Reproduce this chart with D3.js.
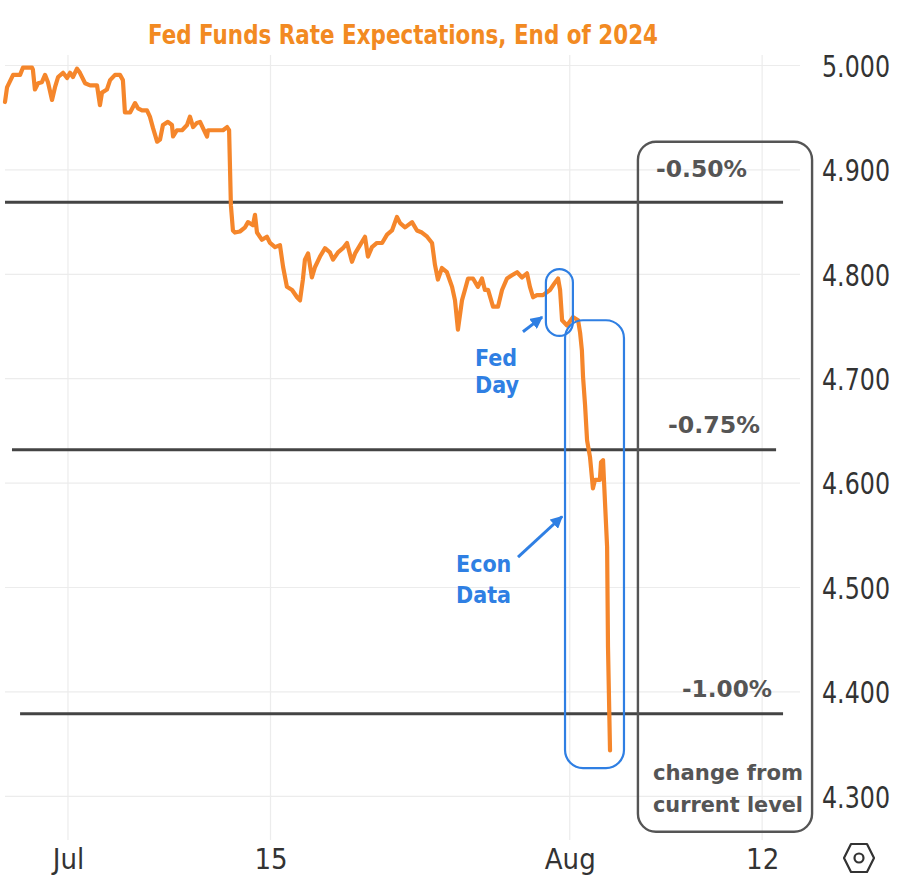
<!DOCTYPE html>
<html><head><meta charset="utf-8">
<script src="https://cdn.jsdelivr.net/npm/d3@7"></script>
<style>body{margin:0;background:#fff}</style>
</head><body><svg id="c" width="898" height="888"></svg>
<script>
// ---- data (x in trading days since Jul 1) ----
const times = [-2.80,-2.71,-2.44,-2.13,-2.00,-1.60,-1.56,-1.47,-1.33,-1.16,-1.02,-0.89,-0.71,-0.58,-0.44,-0.22,-0.04,0.09,0.22,0.40,0.53,0.76,0.98,1.29,1.42,1.51,1.73,1.87,2.09,2.31,2.44,2.53,2.76,2.98,3.11,3.29,3.51,3.64,3.78,3.96,4.09,4.22,4.44,4.62,4.67,4.84,5.07,5.29,5.42,5.56,5.73,5.87,6.00,6.18,6.22,6.44,6.89,7.07,7.16,7.24,7.33,7.42,7.64,7.87,8.00,8.22,8.31,8.40,8.62,8.84,8.98,9.20,9.42,9.56,9.73,9.96,10.18,10.31,10.44,10.53,10.67,10.84,10.98,11.20,11.42,11.64,11.78,12.00,12.22,12.40,12.62,12.76,12.98,13.20,13.33,13.51,13.73,13.96,14.18,14.40,14.62,14.76,14.98,15.29,15.51,15.73,15.96,16.18,16.31,16.44,16.62,16.84,17.07,17.20,17.33,17.51,17.64,17.78,18.00,18.22,18.40,18.53,18.67,18.89,19.11,19.29,19.51,19.73,19.96,20.18,20.40,20.53,20.67,20.84,21.11,21.42,21.64,21.78,21.87,21.96,22.18,22.44,22.67,22.76,22.84,22.89,22.98,23.07,23.20,23.33,23.42,23.64,23.69,23.78,23.82,23.96,24.00,24.09];
const rates = [4.965,4.979,4.991,4.991,4.998,4.998,4.996,4.977,4.983,4.984,4.991,4.984,4.967,4.979,4.989,4.993,4.988,4.993,4.989,4.997,4.993,4.983,4.981,4.981,4.962,4.974,4.977,4.986,4.991,4.991,4.986,4.955,4.955,4.964,4.959,4.957,4.957,4.951,4.940,4.927,4.929,4.943,4.946,4.943,4.932,4.938,4.938,4.943,4.951,4.941,4.945,4.946,4.940,4.932,4.938,4.938,4.938,4.941,4.938,4.866,4.842,4.840,4.841,4.845,4.850,4.847,4.857,4.840,4.833,4.836,4.830,4.826,4.828,4.807,4.788,4.785,4.778,4.775,4.795,4.814,4.820,4.797,4.807,4.817,4.825,4.821,4.814,4.821,4.825,4.830,4.812,4.820,4.828,4.836,4.817,4.826,4.830,4.830,4.838,4.842,4.855,4.849,4.845,4.850,4.842,4.840,4.836,4.830,4.809,4.795,4.806,4.802,4.788,4.775,4.747,4.775,4.785,4.796,4.796,4.788,4.796,4.785,4.785,4.769,4.769,4.785,4.796,4.799,4.802,4.797,4.801,4.788,4.778,4.780,4.780,4.785,4.792,4.796,4.785,4.756,4.751,4.759,4.756,4.744,4.727,4.702,4.675,4.641,4.625,4.595,4.603,4.603,4.620,4.622,4.603,4.539,4.443,4.344];
const yTicks = [5.0,4.9,4.8,4.7,4.6,4.5,4.4,4.3];
const xTickDays = [0, 9, 22.3, 30.85];
const xTickLabels = ["Jul","15","Aug","12"];
const cutLevels = [4.869, 4.632, 4.379];
const cutLabels = ["-0.50%","-0.75%","-1.00%"];
const cutStarts = [-2.8, -2.49, -2.13];
const cutEnds = [31.78, 31.47, 31.78];
const titleText = "Fed Funds Rate Expectations, End of 2024";

// ---- scales ----
const svg = d3.select("#c");
const x = d3.scaleLinear().domain([-2.8, 31.5]).range([5, 776.75]);
const y = d3.scaleLinear().domain([4.3, 5.0]).range([796.3, 65.5]);
const FONT = "'DejaVu Sans Condensed','DejaVu Sans',sans-serif";
const ORANGE = "#f5862b", BLUE = "#2f7fe3", GRAY = "#555";

// gridlines
svg.append("g").selectAll("line").data(yTicks).join("line")
  .attr("x1", 5).attr("x2", 800).attr("y1", d => y(d)).attr("y2", d => y(d))
  .attr("stroke", "#ececec").attr("stroke-width", 1.2);
svg.append("g").selectAll("line").data(xTickDays).join("line")
  .attr("x1", d => x(d)).attr("x2", d => x(d)).attr("y1", 55).attr("y2", 840)
  .attr("stroke", "#ececec").attr("stroke-width", 1.2);

// y axis (right)
const yAxis = svg.append("g").attr("transform", "translate(822,0)")
  .call(d3.axisRight(y).tickValues(yTicks).tickFormat(d3.format(".3f")).tickSize(0).tickPadding(0));
yAxis.select(".domain").remove();
yAxis.selectAll("text").attr("font-family", FONT).attr("font-size", 30).attr("fill", "#333")
  .attr("dy", "0.36em").attr("textLength", 68).attr("lengthAdjust", "spacingAndGlyphs");

// x axis
const xAxis = svg.append("g").attr("transform", "translate(0,846)")
  .call(d3.axisBottom(x).tickValues(xTickDays).tickFormat((d, i) => xTickLabels[i]).tickSize(0).tickPadding(0));
xAxis.select(".domain").remove();
xAxis.selectAll("text").attr("font-family", FONT).attr("font-size", 29).attr("fill", "#333").attr("dy", "0.8em");

// cut level lines
svg.append("g").selectAll("line").data(cutLevels).join("line")
  .attr("x1", (d, i) => x(cutStarts[i])).attr("x2", (d, i) => x(cutEnds[i]))
  .attr("y1", d => y(d)).attr("y2", d => y(d))
  .attr("stroke", "#444").attr("stroke-width", 3);

// main line
const pts = times.map((t, i) => [t, rates[i]]);
svg.append("path").datum(pts)
  .attr("d", d3.line().x(d => x(d[0])).y(d => y(d[1])))
  .attr("fill", "none").attr("stroke", ORANGE).attr("stroke-width", 4.2)
  .attr("stroke-linejoin", "round").attr("stroke-linecap", "round");

// cut labels
const cutLabelPos = [{x: 747, y: 177, w: 91}, {x: 760, y: 433, w: 92}, {x: 772, y: 697, w: 90}];
svg.append("g").selectAll("text").data(cutLabels).join("text")
  .attr("x", (d, i) => cutLabelPos[i].x).attr("y", (d, i) => cutLabelPos[i].y)
  .attr("text-anchor", "end").attr("font-family", FONT).attr("font-weight", "bold")
  .attr("font-size", 23).attr("fill", GRAY)
  .attr("textLength", (d, i) => cutLabelPos[i].w).attr("lengthAdjust", "spacingAndGlyphs")
  .text(d => d);

// blue annotation boxes
function roundBox(t0, t1, v0, v1, r, color, w) {
  svg.append("rect").attr("x", x(t0)).attr("y", y(v0))
    .attr("width", x(t1) - x(t0)).attr("height", y(v1) - y(v0))
    .attr("rx", r).attr("ry", r).attr("fill", "none").attr("stroke", color).attr("stroke-width", w);
}
roundBox(21.24, 22.44, 4.805, 4.741, 13.5, BLUE, 2.2);
roundBox(22.09, 24.71, 4.756, 4.327, 18, BLUE, 2.2);
// gray box
roundBox(25.33, 33.07, 4.927, 4.266, 18, GRAY, 2.4);

// arrows
const defs = svg.append("defs");
defs.append("marker").attr("id", "ah").attr("viewBox", "0 0 10 10").attr("refX", 9).attr("refY", 5)
  .attr("markerWidth", 4.2).attr("markerHeight", 4.2).attr("orient", "auto")
  .append("path").attr("d", "M0,0 L10,5 L0,10 z").attr("fill", BLUE);
const arrows = [[20.22, 4.745, 21.07, 4.759], [20.0, 4.529, 21.96, 4.568]];
svg.append("g").selectAll("line").data(arrows).join("line")
  .attr("x1", d => x(d[0])).attr("y1", d => y(d[1])).attr("x2", d => x(d[2])).attr("y2", d => y(d[3]))
  .attr("stroke", BLUE).attr("stroke-width", 3).attr("marker-end", "url(#ah)");

// annotation texts
const notes = [
  {t: "Fed", x: 475, y: 366}, {t: "Day", x: 475, y: 393},
  {t: "Econ", x: 456, y: 572}, {t: "Data", x: 456, y: 603}
];
svg.append("g").selectAll("text").data(notes).join("text")
  .attr("x", d => d.x).attr("y", d => d.y).attr("font-family", FONT).attr("font-weight", "bold")
  .attr("font-size", 23).attr("fill", BLUE).text(d => d.t);

const boxNotes = [{t: "change from", y: 780}, {t: "current level", y: 812}];
svg.append("g").selectAll("text").data(boxNotes).join("text")
  .attr("x", 653).attr("y", d => d.y).attr("font-family", FONT).attr("font-weight", "bold")
  .attr("font-size", 21).attr("fill", GRAY)
  .attr("textLength", 150).attr("lengthAdjust", "spacingAndGlyphs").text(d => d.t);

// title
svg.append("text").attr("x", 148).attr("y", 44).attr("font-family", FONT).attr("font-weight", "bold")
  .attr("font-size", 26).attr("fill", "#f28a22")
  .attr("textLength", 510).attr("lengthAdjust", "spacingAndGlyphs").text(titleText);

// settings icon
const hx = 859, hy = 858;
svg.append("path")
  .attr("d", `M${hx-15},${hy} L${hx-8},${hy-14} L${hx+8},${hy-14} L${hx+15},${hy} L${hx+8},${hy+14} L${hx-8},${hy+14} Z`)
  .attr("fill", "none").attr("stroke", "#333").attr("stroke-width", 2.2).attr("stroke-linejoin", "round");
svg.append("circle").attr("cx", hx).attr("cy", hy).attr("r", 4.5)
  .attr("fill", "none").attr("stroke", "#333").attr("stroke-width", 2.2);
</script>
</body></html>
